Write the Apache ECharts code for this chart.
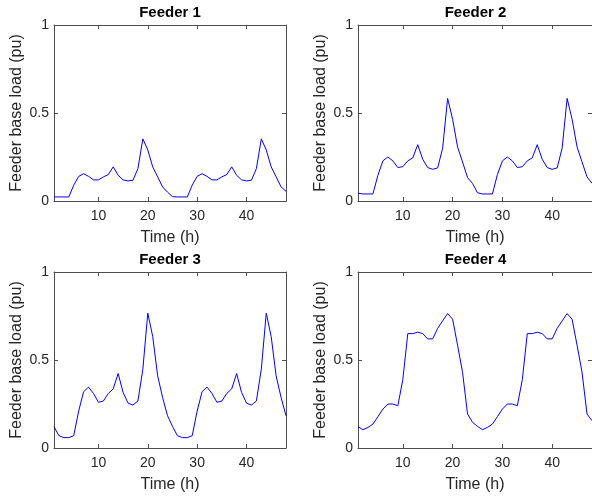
<!DOCTYPE html>
<html>
<head>
<meta charset="utf-8">
<title>Feeder base load</title>
<script src="https://cdn.jsdelivr.net/npm/echarts@6/dist/echarts.min.js"></script>
<style>
  html, body { margin: 0; padding: 0; background: #fff; }
  #main { width: 592px; height: 496px; }
</style>
</head>
<body>
<div id="main"></div>
<script>
// hours on the x axis
var hours = [1, 2, 3, 4, 5, 6, 7, 8, 9, 10, 11, 12, 13, 14, 15, 16, 17, 18, 19, 20, 21, 22, 23, 24,
  25, 26, 27, 28, 29, 30, 31, 32, 33, 34, 35, 36, 37, 38, 39, 40, 41, 42, 43, 44, 45, 46, 47, 48];
var xTicks = [10, 20, 30, 40];
var yTicks = [0, 0.5, 1];
var titles = ['Feeder 1', 'Feeder 2', 'Feeder 3', 'Feeder 4'];

// base load per feeder (pu)
var feeder1 = [0.023, 0.023, 0.023, 0.023, 0.09, 0.14, 0.155, 0.14, 0.12, 0.12, 0.137, 0.15,
  0.194, 0.146, 0.12, 0.114, 0.118, 0.184, 0.353, 0.29, 0.194, 0.137, 0.08, 0.05,
  0.025, 0.023, 0.023, 0.023, 0.09, 0.14, 0.155, 0.14, 0.12, 0.12, 0.137, 0.15,
  0.194, 0.146, 0.12, 0.114, 0.118, 0.184, 0.353, 0.29, 0.194, 0.137, 0.08, 0.055];
var feeder2 = [0.045, 0.04, 0.04, 0.04, 0.146, 0.228, 0.25, 0.228, 0.19, 0.195, 0.228, 0.245,
  0.32, 0.237, 0.19, 0.18, 0.188, 0.30, 0.583, 0.465, 0.307, 0.222, 0.133, 0.10,
  0.047, 0.04, 0.04, 0.04, 0.15, 0.228, 0.25, 0.228, 0.19, 0.195, 0.228, 0.245,
  0.32, 0.237, 0.19, 0.18, 0.188, 0.30, 0.583, 0.465, 0.307, 0.222, 0.137, 0.10];
var feeder3 = [0.121, 0.07, 0.059, 0.059, 0.07, 0.21, 0.32, 0.346, 0.31, 0.26, 0.267, 0.31,
  0.336, 0.423, 0.316, 0.255, 0.244, 0.267, 0.448, 0.766, 0.633, 0.41, 0.287, 0.183,
  0.123, 0.07, 0.059, 0.059, 0.07, 0.21, 0.32, 0.346, 0.31, 0.26, 0.267, 0.31,
  0.336, 0.423, 0.316, 0.255, 0.244, 0.267, 0.448, 0.766, 0.633, 0.41, 0.287, 0.183];
var feeder4 = [0.121, 0.104, 0.117, 0.136, 0.178, 0.221, 0.25, 0.25, 0.24, 0.388, 0.65, 0.65,
  0.658, 0.65, 0.62, 0.62, 0.68, 0.722, 0.764, 0.732, 0.584, 0.43, 0.193, 0.146,
  0.123, 0.104, 0.117, 0.136, 0.178, 0.221, 0.25, 0.25, 0.24, 0.388, 0.65, 0.65,
  0.658, 0.65, 0.62, 0.62, 0.68, 0.722, 0.764, 0.732, 0.584, 0.43, 0.193, 0.155];

var feeders = [feeder1, feeder2, feeder3, feeder4];

// subplot boxes [left, top, width, height]
var boxes = [
  [54, 25, 232, 176],
  [358, 25, 235, 176],
  [54, 272, 232, 176],
  [358, 272, 235, 176]
];

var axisColor = '#4d4d4d';
var textColor = '#262626';
var font = '"Liberation Sans", Arial, sans-serif';

function pairs(ys) {
  var out = [];
  for (var i = 0; i < hours.length; i++) {
    out.push([hours[i], ys[i]]);
  }
  return out;
}

var chart = echarts.init(document.getElementById('main'), null, { renderer: 'canvas' });

var grid = [], xAxis = [], yAxis = [], series = [], title = [];

for (var k = 0; k < 4; k++) {
  var b = boxes[k];
  grid.push({ left: b[0], top: b[1], width: b[2], height: b[3], containLabel: false });

  // title sits ~12px above the box
  title.push({
    text: titles[k],
    left: b[0] + b[2] / 2,
    top: b[1] - 20,
    textAlign: 'center',
    padding: 0,
    textStyle: { fontFamily: font, fontSize: 15, fontWeight: 'bold', color: '#000' }
  });

  // bottom x axis with labels
  xAxis.push({
    gridIndex: k, type: 'value', min: 1, max: 48, position: 'bottom',
    name: 'Time (h)', nameLocation: 'middle', nameGap: 29,
    nameTextStyle: { fontFamily: font, fontSize: 16, color: textColor },
    axisLine: { show: true, onZero: false, lineStyle: { color: axisColor, width: 1 } },
    axisTick: { show: true, inside: true, length: 4, customValues: xTicks, lineStyle: { color: axisColor } },
    axisLabel: { show: true, margin: 8, customValues: xTicks, fontFamily: font, fontSize: 14, color: textColor },
    splitLine: { show: false }
  });
  // top x axis, just the box edge
  xAxis.push({
    gridIndex: k, type: 'value', min: 1, max: 48, position: 'top',
    axisLine: { show: true, onZero: false, lineStyle: { color: axisColor, width: 1 } },
    axisTick: { show: true, inside: true, length: 4, customValues: xTicks, lineStyle: { color: axisColor } },
    axisLabel: { show: false, customValues: xTicks },
    splitLine: { show: false }
  });
  // left y axis
  yAxis.push({
    gridIndex: k, type: 'value', min: yTicks[0], max: yTicks[2], interval: 0.5, position: 'left',
    name: 'Feeder base load (pu)', nameLocation: 'middle', nameGap: 29,
    nameTextStyle: { fontFamily: font, fontSize: 16, color: textColor },
    axisLine: { show: true, onZero: false, lineStyle: { color: axisColor, width: 1 } },
    axisTick: { show: true, inside: true, length: 4, lineStyle: { color: axisColor } },
    axisLabel: { show: true, margin: 5, fontFamily: font, fontSize: 14, color: textColor },
    splitLine: { show: false }
  });
  // right y axis
  yAxis.push({
    gridIndex: k, type: 'value', min: yTicks[0], max: yTicks[2], interval: 0.5, position: 'right',
    axisLine: { show: true, onZero: false, lineStyle: { color: axisColor, width: 1 } },
    axisTick: { show: true, inside: true, length: 4, lineStyle: { color: axisColor } },
    axisLabel: { show: false },
    splitLine: { show: false }
  });

  series.push({
    type: 'line',
    xAxisIndex: k * 2,
    yAxisIndex: k * 2,
    data: pairs(feeders[k]),
    showSymbol: false,
    symbol: 'none',
    lineStyle: { color: '#0000ff', width: 1 },
    animation: false
  });
}

chart.setOption({
  backgroundColor: '#fff',
  animation: false,
  title: title,
  grid: grid,
  xAxis: xAxis,
  yAxis: yAxis,
  series: series
});
</script>
</body>
</html>
